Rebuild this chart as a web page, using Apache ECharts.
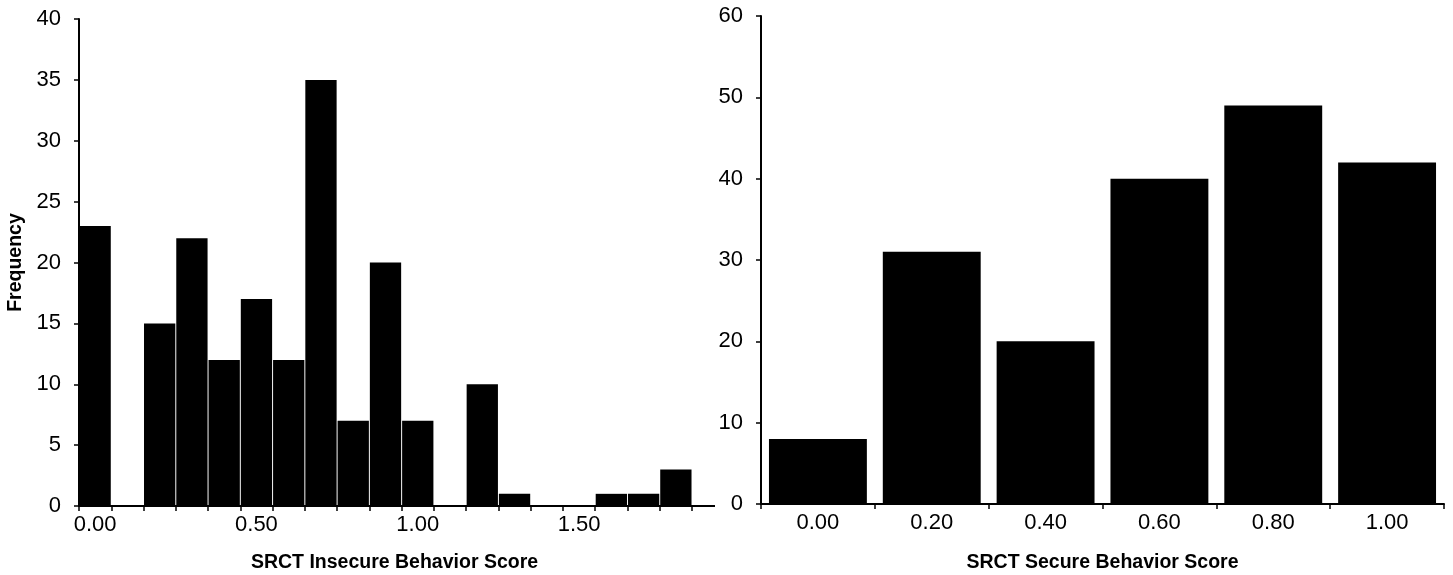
<!DOCTYPE html>
<html>
<head>
<meta charset="utf-8">
<script src="https://cdn.jsdelivr.net/npm/echarts@6/dist/echarts.min.js"></script>
<style>html,body{margin:0;padding:0;background:#fff}#c{width:1453px;height:575px}</style>
</head>
<body>
<div id="c"></div>
<script>
const insecureCats = ['0.00','0.10','0.20','0.30','0.40','0.50','0.60','0.70','0.80','0.90','1.00','1.10','1.20','1.30','1.40','1.50','1.60','1.70','1.80'];
const insecureVals = [23,0,15,22,12,17,12,35,7,20,7,0,10,1,0,0,1,1,3];
const secureCats = ['0.00','0.20','0.40','0.60','0.80','1.00'];
const secureVals = [8,31,20,40,49,42];
const leftYMax = 40, leftYStep = 5;
const rightYMax = 60, rightYStep = 10;

const font = 'Liberation Sans, Arial, sans-serif';
const chart = echarts.init(document.getElementById('c'));
const axisLine = {show:true, lineStyle:{color:'#000', width:2}};
const tick = {show:true, length:5, inside:false, lineStyle:{color:'#000', width:1.5}};
const lbl = {color:'#000', fontSize:22, fontFamily:font};
const nameStyle = {color:'#000', fontSize:19.5, fontWeight:'bold', fontFamily:font};

const g0 = {left:79, top:19, width:613, height:487};
const g1 = {left:761, top:16, width:683, height:488};

chart.setOption({
  animation:false,
  backgroundColor:'#fff',
  grid:[
    Object.assign({containLabel:false, outerBoundsMode:'none'}, g0),
    Object.assign({containLabel:false, outerBoundsMode:'none'}, g1)
  ],
  xAxis:[
    {type:'category', gridIndex:0, data:insecureCats, boundaryGap:true,
     axisLine, axisTick:Object.assign({}, tick, {interval:0}),
     axisLabel:Object.assign({}, lbl, {interval:4, margin:8}),
     name:'SRCT Insecure Behavior Score', nameLocation:'middle', nameGap:47,
     nameTextStyle:Object.assign({}, nameStyle, {padding:[0,0,0,18]})},
    {type:'category', gridIndex:1, data:secureCats, boundaryGap:true,
     axisLine, axisTick:Object.assign({}, tick, {interval:0}),
     axisLabel:Object.assign({}, lbl, {interval:0, margin:8}),
     name:'SRCT Secure Behavior Score', nameLocation:'middle', nameGap:49, nameTextStyle:nameStyle}
  ],
  yAxis:[
    {type:'value', gridIndex:0, min:0, max:leftYMax, interval:leftYStep,
     axisLine, axisTick:tick, splitLine:{show:false},
     axisLabel:Object.assign({}, lbl, {margin:18}),
     name:'Frequency', nameLocation:'middle', nameGap:53, nameRotate:90, nameTextStyle:nameStyle},
    {type:'value', gridIndex:1, min:0, max:rightYMax, interval:rightYStep,
     axisLine, axisTick:tick, splitLine:{show:false},
     axisLabel:Object.assign({}, lbl, {margin:18})}
  ],
  graphic:[
    {type:'line', silent:true,
     shape:{x1:g0.left + g0.width, y1:g0.top + g0.height, x2:g0.left + g0.width + 23, y2:g0.top + g0.height},
     style:{stroke:'#000', lineWidth:2}}
  ],
  series:[
    {type:'bar', xAxisIndex:0, yAxisIndex:0, data:insecureVals, barCategoryGap:'3%',
     itemStyle:{color:'#000'}},
    {type:'bar', xAxisIndex:1, yAxisIndex:1, data:secureVals, barCategoryGap:'14%',
     itemStyle:{color:'#000'}}
  ]
});
</script>
</body>
</html>
